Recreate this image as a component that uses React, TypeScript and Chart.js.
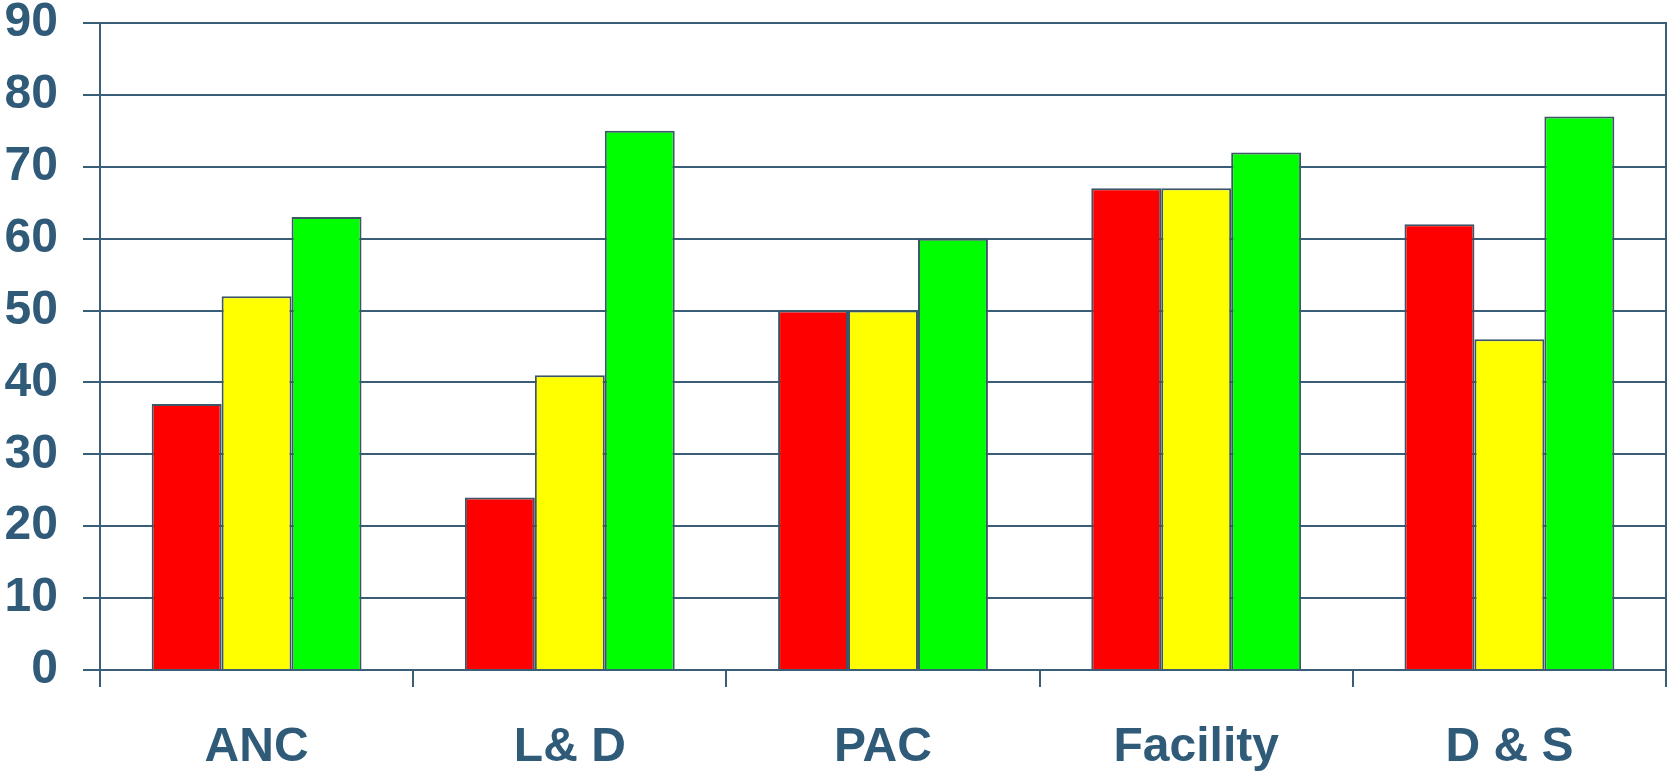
import React, { useEffect, useRef } from "react";
import { Chart, registerables } from "chart.js";

Chart.register(...registerables);

// Categories and the three series shown for each
const categories = ["ANC", "L& D", "PAC", "Facility", "D & S"];
const redValues = [37, 24, 50, 67, 62];
const yellowValues = [52, 41, 50, 67, 46];
const greenValues = [63, 75, 60, 72, 77];
const yTicks = [0, 10, 20, 30, 40, 50, 60, 70, 80, 90];

const INK = "#2f5b79";
const LINE = "#3a5d78";
const BAR_EDGE = "#3c5668";
const FONT = { family: "Liberation Sans, Arial, sans-serif", size: 48, weight: "bold" as const };

export default function App() {
  const canvasRef = useRef<HTMLCanvasElement | null>(null);

  useEffect(() => {
    const canvas = canvasRef.current;
    if (!canvas) return;
    const chart = new Chart(canvas, {
      type: "bar",
      data: {
        labels: categories,
        datasets: [
          { data: redValues, backgroundColor: "#ff0000" },
          { data: yellowValues, backgroundColor: "#ffff00" },
          { data: greenValues, backgroundColor: "#00ff00" },
        ].map((d) => ({
          ...d,
          borderColor: BAR_EDGE,
          borderWidth: 2,
          categoryPercentage: 0.67,
          barPercentage: 1,
        })),
      },
      options: {
        animation: false,
        responsive: false,
        maintainAspectRatio: false,
        layout: { padding: { top: 23, right: 5, left: 0, bottom: 0 } },
        plugins: {
          legend: { display: false },
          tooltip: { enabled: false },
        },
        scales: {
          x: {
            offset: true,
            grid: {
              offset: true,
              drawOnChartArea: false,
              drawTicks: true,
              tickLength: 17,
              color: LINE,
              lineWidth: 2,
            },
            border: { display: true, color: LINE, width: 2 },
            ticks: {
              color: INK,
              padding: 32,
              font: FONT,
            },
            afterFit: (scale: any) => {
              scale.height = 101;
              scale.paddingLeft = 0;
              scale.paddingRight = 0;
            },
          },
          y: {
            min: 0,
            max: 90,
            afterBuildTicks: (scale: any) => {
              scale.ticks = yTicks.map((v) => ({ value: v }));
            },
            grid: {
              drawTicks: true,
              tickLength: 17,
              color: LINE,
              lineWidth: 2,
            },
            border: { display: true, color: LINE, width: 2 },
            ticks: {
              color: INK,
              padding: 25,
              font: FONT,
            },
            afterFit: (scale: any) => {
              scale.width = 100;
              scale.paddingTop = 0;
              scale.paddingBottom = 0;
            },
          },
          yRight: {
            position: "right",
            min: 0,
            max: 90,
            grid: { display: false, drawTicks: false },
            ticks: { display: false },
            border: { display: true, color: LINE, width: 2 },
            afterFit: (scale: any) => {
              scale.width = 0;
              scale.paddingTop = 0;
              scale.paddingBottom = 0;
            },
          },
        },
      },
    });
    return () => chart.destroy();
  }, []);

  return (
    <div style={{ position: "fixed", left: 0, top: 0, width: 1671, height: 771, background: "#fff" }}>
      <canvas ref={canvasRef} width={1671} height={771} style={{ display: "block" }} />
    </div>
  );
}
